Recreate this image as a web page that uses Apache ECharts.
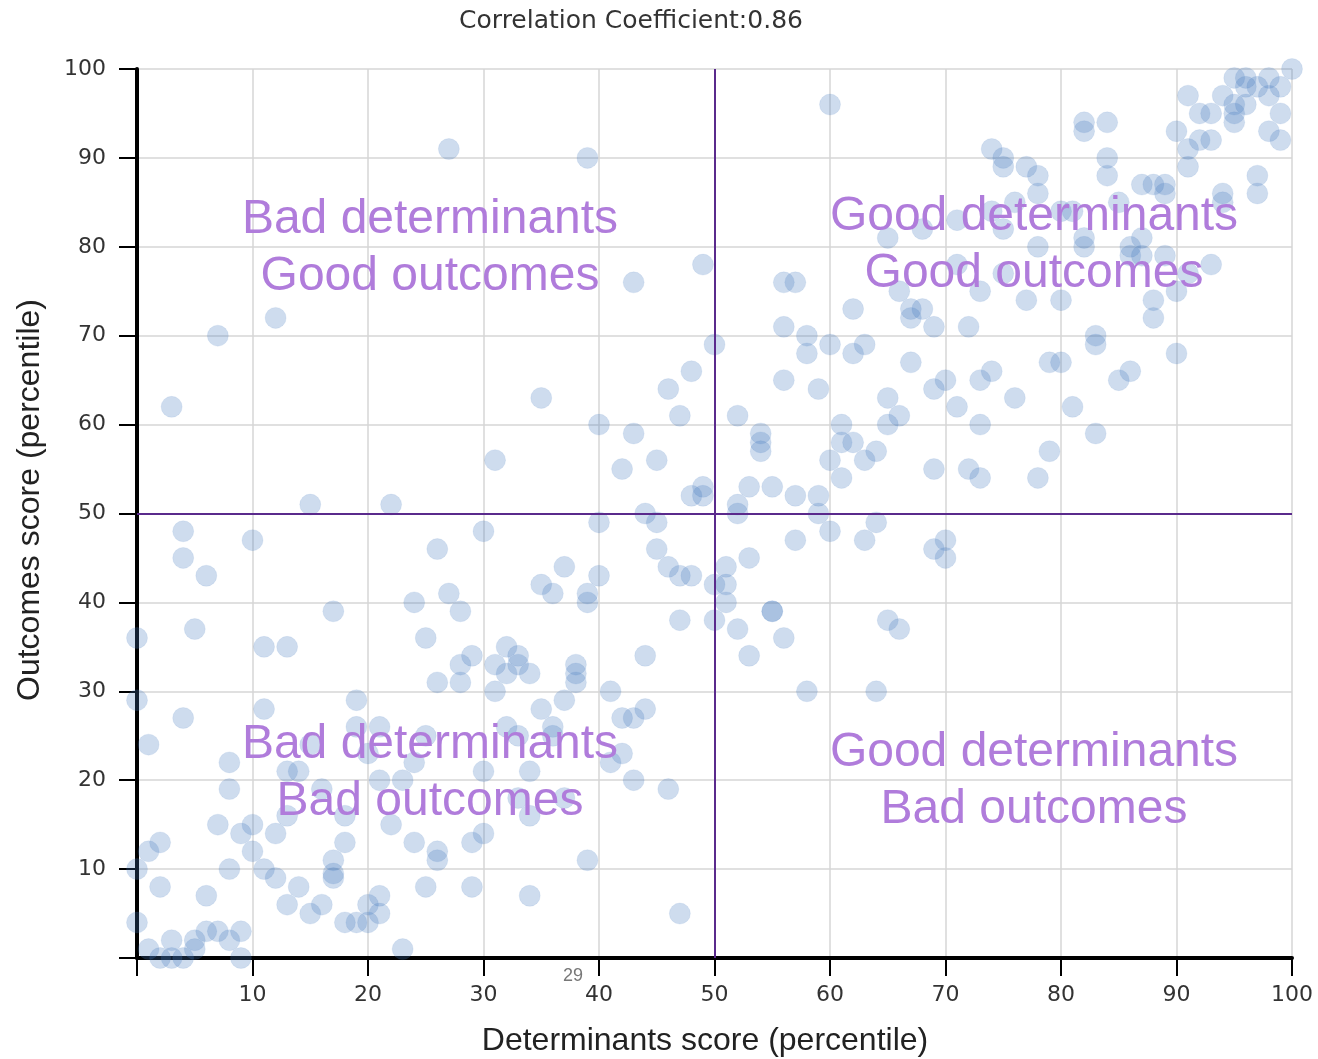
<!DOCTYPE html>
<html>
<head>
<meta charset="utf-8">
<script src="https://cdn.jsdelivr.net/npm/echarts@6/dist/echarts.min.js"></script>
<style>
  html, body { margin: 0; padding: 0; background: #fff; }
  #chart { width: 1318px; height: 1059px; }
</style>
</head>
<body>
<div id="chart"></div>
<script>
// Determinants score (x) and Outcomes score (y), percentiles
const determinants = [
  27,39,43,49,7,12,3,35,50,48,46,47,40,43,31,42,45,15,22,49,48,49,44,
  45,40,45,46,47,48,37,35,36,39,39,40,47,44,33,32,34,38,38,38,41,37,35,44,42,43,36,36,42,41,34,37,43,46,34,33,39,34,47,
  4,10,4,6,5,0,30,26,27,24,28,17,25,11,13,29,28,31,
  0,4,11,19,1,8,8,14,13,15,19,21,25,32,33,30,21,23,16,24,20,13,18,7,9,10,12,18,22,24,26,26,29,30,2,1,10,0,8,11,12,17,17,17,2,14,25,29,6,13,15,16,20,21,21,18,19,20,23,0,1,3,5,5,6,7,8,9,9,2,3,4,
  26,28,31,32,33,
  50,51,51,51,50,52,55,55,56,53,53,52,52,53,55,57,59,59,60,57,64,63,52,54,54,54,56,59,65,66,65,61,61,62,60,63,64,61,67,58,62,65,66,58,64,
  60,56,57,62,56,58,60,63,65,66,67,67,68,
  69,70,71,73,74,76,73,79,80,81,83,85,86,79,78,69,72,73,69,70,70,
  74,75,75,77,78,78,76,71,68,82,82,84,84,84,87,88,89,89,85,80,81,82,82,86,87,86,89,87,93,71,73,77,80,88,88,90,91,72,69,83,83,90,97,97,94,94,98,99,99,91,92,93,90,92,93,91,91,94,95,95,95,96,95,96,96,98,98,99,97,100,78,
  74,75,75
];
const outcomes = [
  91,90,76,78,70,72,62,63,69,66,64,61,60,59,56,55,56,51,51,53,52,52,50,
  49,49,46,44,43,43,44,42,41,41,40,43,38,34,34,35,32,33,32,31,30,29,28,28,27,27,26,25,23,22,21,18,20,19,16,18,11,7,5,
  48,47,45,43,37,36,48,46,41,40,39,39,36,35,35,34,33,33,
  29,27,28,29,24,22,19,21,21,24,26,26,25,26,25,21,20,20,19,22,23,16,16,15,14,15,14,13,15,13,12,11,13,14,13,12,12,10,10,10,9,11,9,9.5,8,8,8,8,7,6,5,6,6,7,5,4,4,4,1,4,1,2,2,1,3,3,2,3,0,0,0,0,
  31,31,30,32,33,
  42,44,42,40,38,37,39,39,36,34,45,51,50,53,53,52,52,50,48,47,49,47,61,59,58,57,65,64,63,61,60,60,58,58,56,56,57,54,67,68,68,38,37,30,30,
  96,76,76,73,71,70,69,69,81,75,73,72,73,
  64,65,62,65,66,63,60,67,67,62,59,65,66,57,54,55,55,54,46,47,45,
  91,90,89,89,88,86,85,83,82,94,93,94,90,88,87,87,87,86,85,84,84,81,80,80,79,79,79,81,78,78,75,74,74,74,72,75,77,71,71,70,69,68,88,86,86,85,93,92,95,97,95,95,93,92,92,91,89,97,96,95,94,96,99,99,98,99,97,98,98,100,80,
  84,82,77
];
const axisTicks = [10,20,30,40,50,60,70,80,90,100];
const midX = 50, midY = 50;
const titleText = 'Correlation Coefficient:0.86';
const xTitle = 'Determinants score (percentile)';
const yTitle = 'Outcomes score (percentile)';
const quadrantLabels = [
  'Bad determinants\nGood outcomes',
  'Good determinants\nGood outcomes',
  'Bad determinants\nBad outcomes',
  'Good determinants\nBad outcomes'
];
const hoverLabel = '29';

const points = determinants.map((d, i) => [d, outcomes[i]]);

const chart = echarts.init(document.getElementById('chart'), null, { renderer: 'canvas' });

const axisCommon = {
  type: 'value', min: 0, max: 100, interval: 10,
  axisLine: { show: true, onZero: false, lineStyle: { color: '#000', width: 4 } },
  axisTick: { show: true, length: 18, lineStyle: { color: '#000', width: 2 } },
  axisLabel: {
    fontFamily: 'DejaVu Sans', fontSize: 22, color: '#333',
    formatter: v => (axisTicks.indexOf(v) >= 0 ? String(v) : '')
  },
  splitLine: { show: true, lineStyle: { color: '#d6d6d6', width: 1.5 } }
};

const quadStyle = { fontFamily: 'Liberation Sans', fontSize: 48, fill: '#b07cdb', align: 'center', verticalAlign: 'middle', lineHeight: 57 };
const nameStyle = { fontFamily: 'Liberation Sans', fontSize: 32, fill: '#222', align: 'center', verticalAlign: 'middle' };

chart.setOption({
  animation: false,
  backgroundColor: '#fff',
  grid: { left: 137, right: 26, top: 69, bottom: 101, containLabel: false },
  xAxis: Object.assign({}, axisCommon, {
    axisLabel: Object.assign({}, axisCommon.axisLabel, { margin: 26 })
  }),
  yAxis: Object.assign({}, axisCommon, {
    axisLabel: Object.assign({}, axisCommon.axisLabel, { margin: 31 })
  }),
  graphic: [
    { type: 'text', x: 631, y: 21, style: { text: titleText, fontFamily: 'DejaVu Sans', fontSize: 25, fill: '#333', align: 'center', verticalAlign: 'middle' } },
    { type: 'text', x: 705, y: 1041, style: Object.assign({ text: xTitle }, nameStyle) },
    { type: 'text', x: 30, y: 500, rotation: Math.PI / 2, style: Object.assign({ text: yTitle }, nameStyle) },
    { type: 'text', x: 430, y: 248, style: Object.assign({ text: quadrantLabels[0] }, quadStyle), z: 10 },
    { type: 'text', x: 1034, y: 245, style: Object.assign({ text: quadrantLabels[1] }, quadStyle), z: 10 },
    { type: 'text', x: 430, y: 773, style: Object.assign({ text: quadrantLabels[2] }, quadStyle), z: 10 },
    { type: 'text', x: 1034, y: 781, style: Object.assign({ text: quadrantLabels[3] }, quadStyle), z: 10 },
    { type: 'text', x: 573, y: 976, style: { text: hoverLabel, fontFamily: 'Liberation Sans', fontSize: 18, fill: '#777', align: 'center', verticalAlign: 'middle' } }
  ],
  series: [{
    type: 'scatter',
    data: points,
    symbol: 'circle',
    symbolSize: 21,
    itemStyle: { color: 'rgba(70,120,190,0.33)', borderColor: 'rgba(70,120,190,0.12)', borderWidth: 1 },
    markLine: {
      silent: true, symbol: 'none', animation: false,
      label: { show: false },
      lineStyle: { color: '#5a2a8c', width: 2, type: 'solid' },
      data: [{ xAxis: midX }, { yAxis: midY }]
    }
  }]
});
</script>
</body>
</html>
